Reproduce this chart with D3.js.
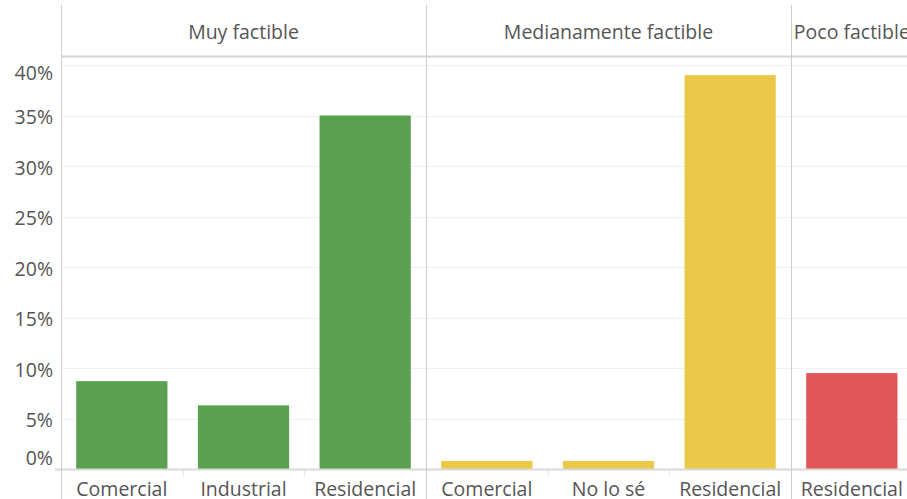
<!DOCTYPE html>
<html>
<head>
<meta charset="utf-8">
<script src="https://cdn.jsdelivr.net/npm/d3@7"></script>
<style>
  body { margin: 0; background: #fff; }
  svg { display: block; }
  text { font-family: "Open Sans", Lato, sans-serif; }
</style>
</head>
<body>
<div id="chart"></div>
<script>
// panels (column headers) and their categories / values (%)
const panels = ["Muy factible", "Medianamente factible", "Poco factible"]
const muyCats = ["Comercial", "Industrial", "Residencial"]
const muyVals = [8.7, 6.3, 35.0]
const medCats = ["Comercial", "No lo sé", "Residencial"]
const medVals = [0.8, 0.8, 39.0]
const pocoCats = ["Residencial"]
const pocoVals = [9.5]
const panelColors = ["#59a14f", "#ebc848", "#e15759"]
const yTicks = [0, 5, 10, 15, 20, 25, 30, 35, 40]

const width = 907, height = 499
const plotLeft = 61, plotRight = 912.67
const plotTop = 65, base = 469
const fontSize = "19.5px"

// build rows from the arrays above
let rows = []
const groups = [[muyCats, muyVals], [medCats, medVals], [pocoCats, pocoVals]]
groups.forEach((g, p) => {
  g[0].forEach((c, i) => {
    rows.push({ key: p + "|" + c, panel: p, cat: c, value: g[1][i] })
  })
})

const svg = d3.select("#chart").append("svg")
  .attr("width", width)
  .attr("height", height)

const x = d3.scaleBand()
  .domain(rows.map(d => d.key))
  .range([plotLeft, plotRight])
  .paddingInner(0.25)
  .paddingOuter(0.125)

const y = d3.scaleLinear()
  .domain([0, 40])
  .range([base, plotTop])

const step = x.step()

// gridlines
svg.append("g")
  .selectAll("line")
  .data(yTicks)
  .join("line")
    .attr("x1", plotLeft).attr("x2", width)
    .attr("y1", d => Math.round(y(d)) + 0.5)
    .attr("y2", d => Math.round(y(d)) + 0.5)
    .attr("stroke", "#f0f0f0")
    .attr("stroke-width", 1)

// tick labels (Tableau keeps edge labels inside the pane)
svg.append("g")
  .selectAll("text")
  .data(yTicks)
  .join("text")
    .attr("x", 53)
    .attr("y", d => Math.min(Math.max(y(d) + 1, 72), 457))
    .attr("text-anchor", "end")
    .attr("dominant-baseline", "central")
    .attr("fill", "#555")
    .style("font-size", fontSize)
    .text(d => d + "%")

// bars
svg.append("g")
  .selectAll("rect")
  .data(rows)
  .join("rect")
    .attr("x", d => x(d.key))
    .attr("width", x.bandwidth())
    .attr("y", d => y(d.value))
    .attr("height", d => base - y(d.value))
    .attr("fill", d => panelColors[d.panel])

// panel boundaries
let bounds = []
let count = 0
groups.forEach((g, p) => {
  bounds.push({ p: p, x0: plotLeft + count * step, x1: plotLeft + (count + g[0].length) * step })
  count += g[0].length
})

// small separators between categories under the baseline
let seps = []
count = 0
groups.forEach(g => {
  for (let i = 1; i < g[0].length; i++) seps.push(plotLeft + (count + i) * step)
  count += g[0].length
})
svg.append("g")
  .selectAll("line")
  .data(seps)
  .join("line")
    .attr("x1", d => Math.round(d) + 0.5).attr("x2", d => Math.round(d) + 0.5)
    .attr("y1", base).attr("y2", base + 7)
    .attr("stroke", "#e6e6e6")

// header line and baseline
svg.append("line")
  .attr("x1", plotLeft).attr("x2", width)
  .attr("y1", 56.5).attr("y2", 56.5)
  .attr("stroke", "#d4d4d4").attr("stroke-width", 2)
svg.append("line")
  .attr("x1", 55).attr("x2", width)
  .attr("y1", base + 0.5).attr("y2", base + 0.5)
  .attr("stroke", "#d9d9d9").attr("stroke-width", 2)

// vertical lines: axis + dividers
svg.append("g")
  .selectAll("line")
  .data(bounds.map(b => b.x0))
  .join("line")
    .attr("x1", d => Math.round(d) + 0.5).attr("x2", d => Math.round(d) + 0.5)
    .attr("y1", 5).attr("y2", height)
    .attr("stroke", "#cfcfcf")

// panel headers
svg.append("g")
  .selectAll("text")
  .data(bounds)
  .join("text")
    .attr("x", d => (d.x0 + d.x1) / 2)
    .attr("y", 31)
    .attr("text-anchor", "middle")
    .attr("dominant-baseline", "central")
    .attr("fill", "#555")
    .style("font-size", fontSize)
    .text(d => panels[d.p])

// category labels
svg.append("g")
  .selectAll("text")
  .data(rows)
  .join("text")
    .attr("x", d => x(d.key) + x.bandwidth() / 2)
    .attr("y", 488)
    .attr("text-anchor", "middle")
    .attr("dominant-baseline", "central")
    .attr("fill", "#555")
    .style("font-size", fontSize)
    .text(d => d.cat)
</script>
</body>
</html>
